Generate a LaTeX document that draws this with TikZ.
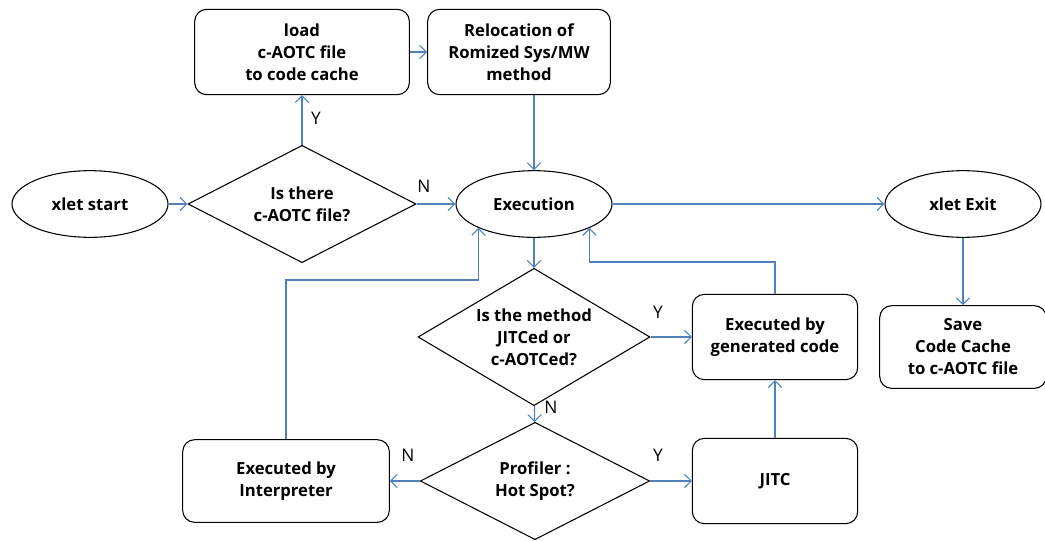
\documentclass[tikz,border=0pt]{standalone}
\usepackage{fontspec}
\setmainfont{Open Sans}
\usetikzlibrary{shapes.geometric,arrows.meta}

\definecolor{flowblue}{RGB}{79,129,189}

\begin{document}
\begin{tikzpicture}[x=0.75pt,y=-0.75pt,
    box/.style={draw, rounded corners=9pt, line width=0.8pt, align=center,
        inner sep=2pt, font=\bfseries\fontsize{12.5}{16.5}\selectfont},
    oval/.style={draw, ellipse, line width=0.8pt, minimum width=117pt,
        minimum height=50pt, inner sep=0pt, font=\bfseries\fontsize{12.5}{16.5}\selectfont},
    ask/.style={draw, diamond, line width=0.8pt, align=center, inner sep=0pt,
        font=\bfseries\fontsize{12.5}{16.5}\selectfont},
    arr/.style={draw=flowblue, line width=0.8pt, -{Straight Barb[length=5pt,width=10pt]}},
    yn/.style={font=\fontsize{13}{16}\selectfont}]

    % Fix the size of the picture
    \useasboundingbox (0,0) rectangle (1045,540);

    % Start, execution and exit
    \node[oval] (start) at (90,204) {xlet start};
    \node[oval] (exec) at (534,204) {Execution};
    \node[oval] (exit) at (963,204) {xlet Exit};

    % Decisions
    \node[ask, minimum width=171pt, minimum height=88pt, aspect=1.93] (qfile) at (302,204) {Is there\\c-AOTC file?};
    \node[ask, minimum width=174pt, minimum height=103pt, aspect=1.69] (qjit) at (534,337) {Is the method\\JITCed or\\c-AOTCed?};
    \node[ask, minimum width=172pt, minimum height=88pt, aspect=1.95] (qhot) at (535,481) {Profiler :\\Hot Spot?};

    % Boxes
    \node[box, minimum width=161pt, minimum height=64pt] (load) at (302,52) {load\\c-AOTC file\\to code cache};
    \node[box, minimum width=137pt, minimum height=64pt] (reloc) at (519,52) {Relocation of\\Romized Sys/MW\\method};
    \node[box, minimum width=124pt, minimum height=64pt] (gen) at (775,337) {Executed by\\generated code};
    \node[box, minimum width=124pt, minimum height=64pt] (jitc) at (775,481) {JITC};
    \node[box, minimum width=155pt, minimum height=62pt] (interp) at (286,481) {Executed by\\Interpreter};
    \node[box, minimum width=125pt, minimum height=62pt] (save) at (963,347) {Save\\Code Cache\\to c-AOTC file};

    % Connectors
    \draw[arr] (start) -- (qfile);
    \draw[arr] (qfile) -- (load);
    \draw[arr] (qfile) -- (exec);
    \draw[arr] (load) -- (reloc);
    \draw[arr] (reloc.south -| exec.north) -- (exec);
    \draw[arr] (exec) -- (exit);
    \draw[arr] (exit) -- (save);
    \draw[arr] (exec) -- (qjit);
    \draw[arr] (qjit) -- (gen);
    \draw[arr] (qjit) -- (qhot);
    \draw[arr] (qhot) -- (jitc);
    \draw[arr] (qhot) -- (interp);
    \draw[arr] (jitc) -- (gen);
    \draw[arr] (gen.north) -- (gen.north |- 0,262) -| (exec.south east);
    \draw[arr] (interp.north) -- (interp.north |- 0,280) -| (exec.south west);

    % Y and N labels
    \node[yn] (y1) at (316,118) {Y};
    \node[yn] (n1) at (424,186) {N};
    \node[yn] (y2) at (658,312) {Y};
    \node[yn] (n2) at (551,407) {N};
    \node[yn] (y3) at (658,455) {Y};
    \node[yn] (n3) at (408,455) {N};

\end{tikzpicture}
\end{document}
